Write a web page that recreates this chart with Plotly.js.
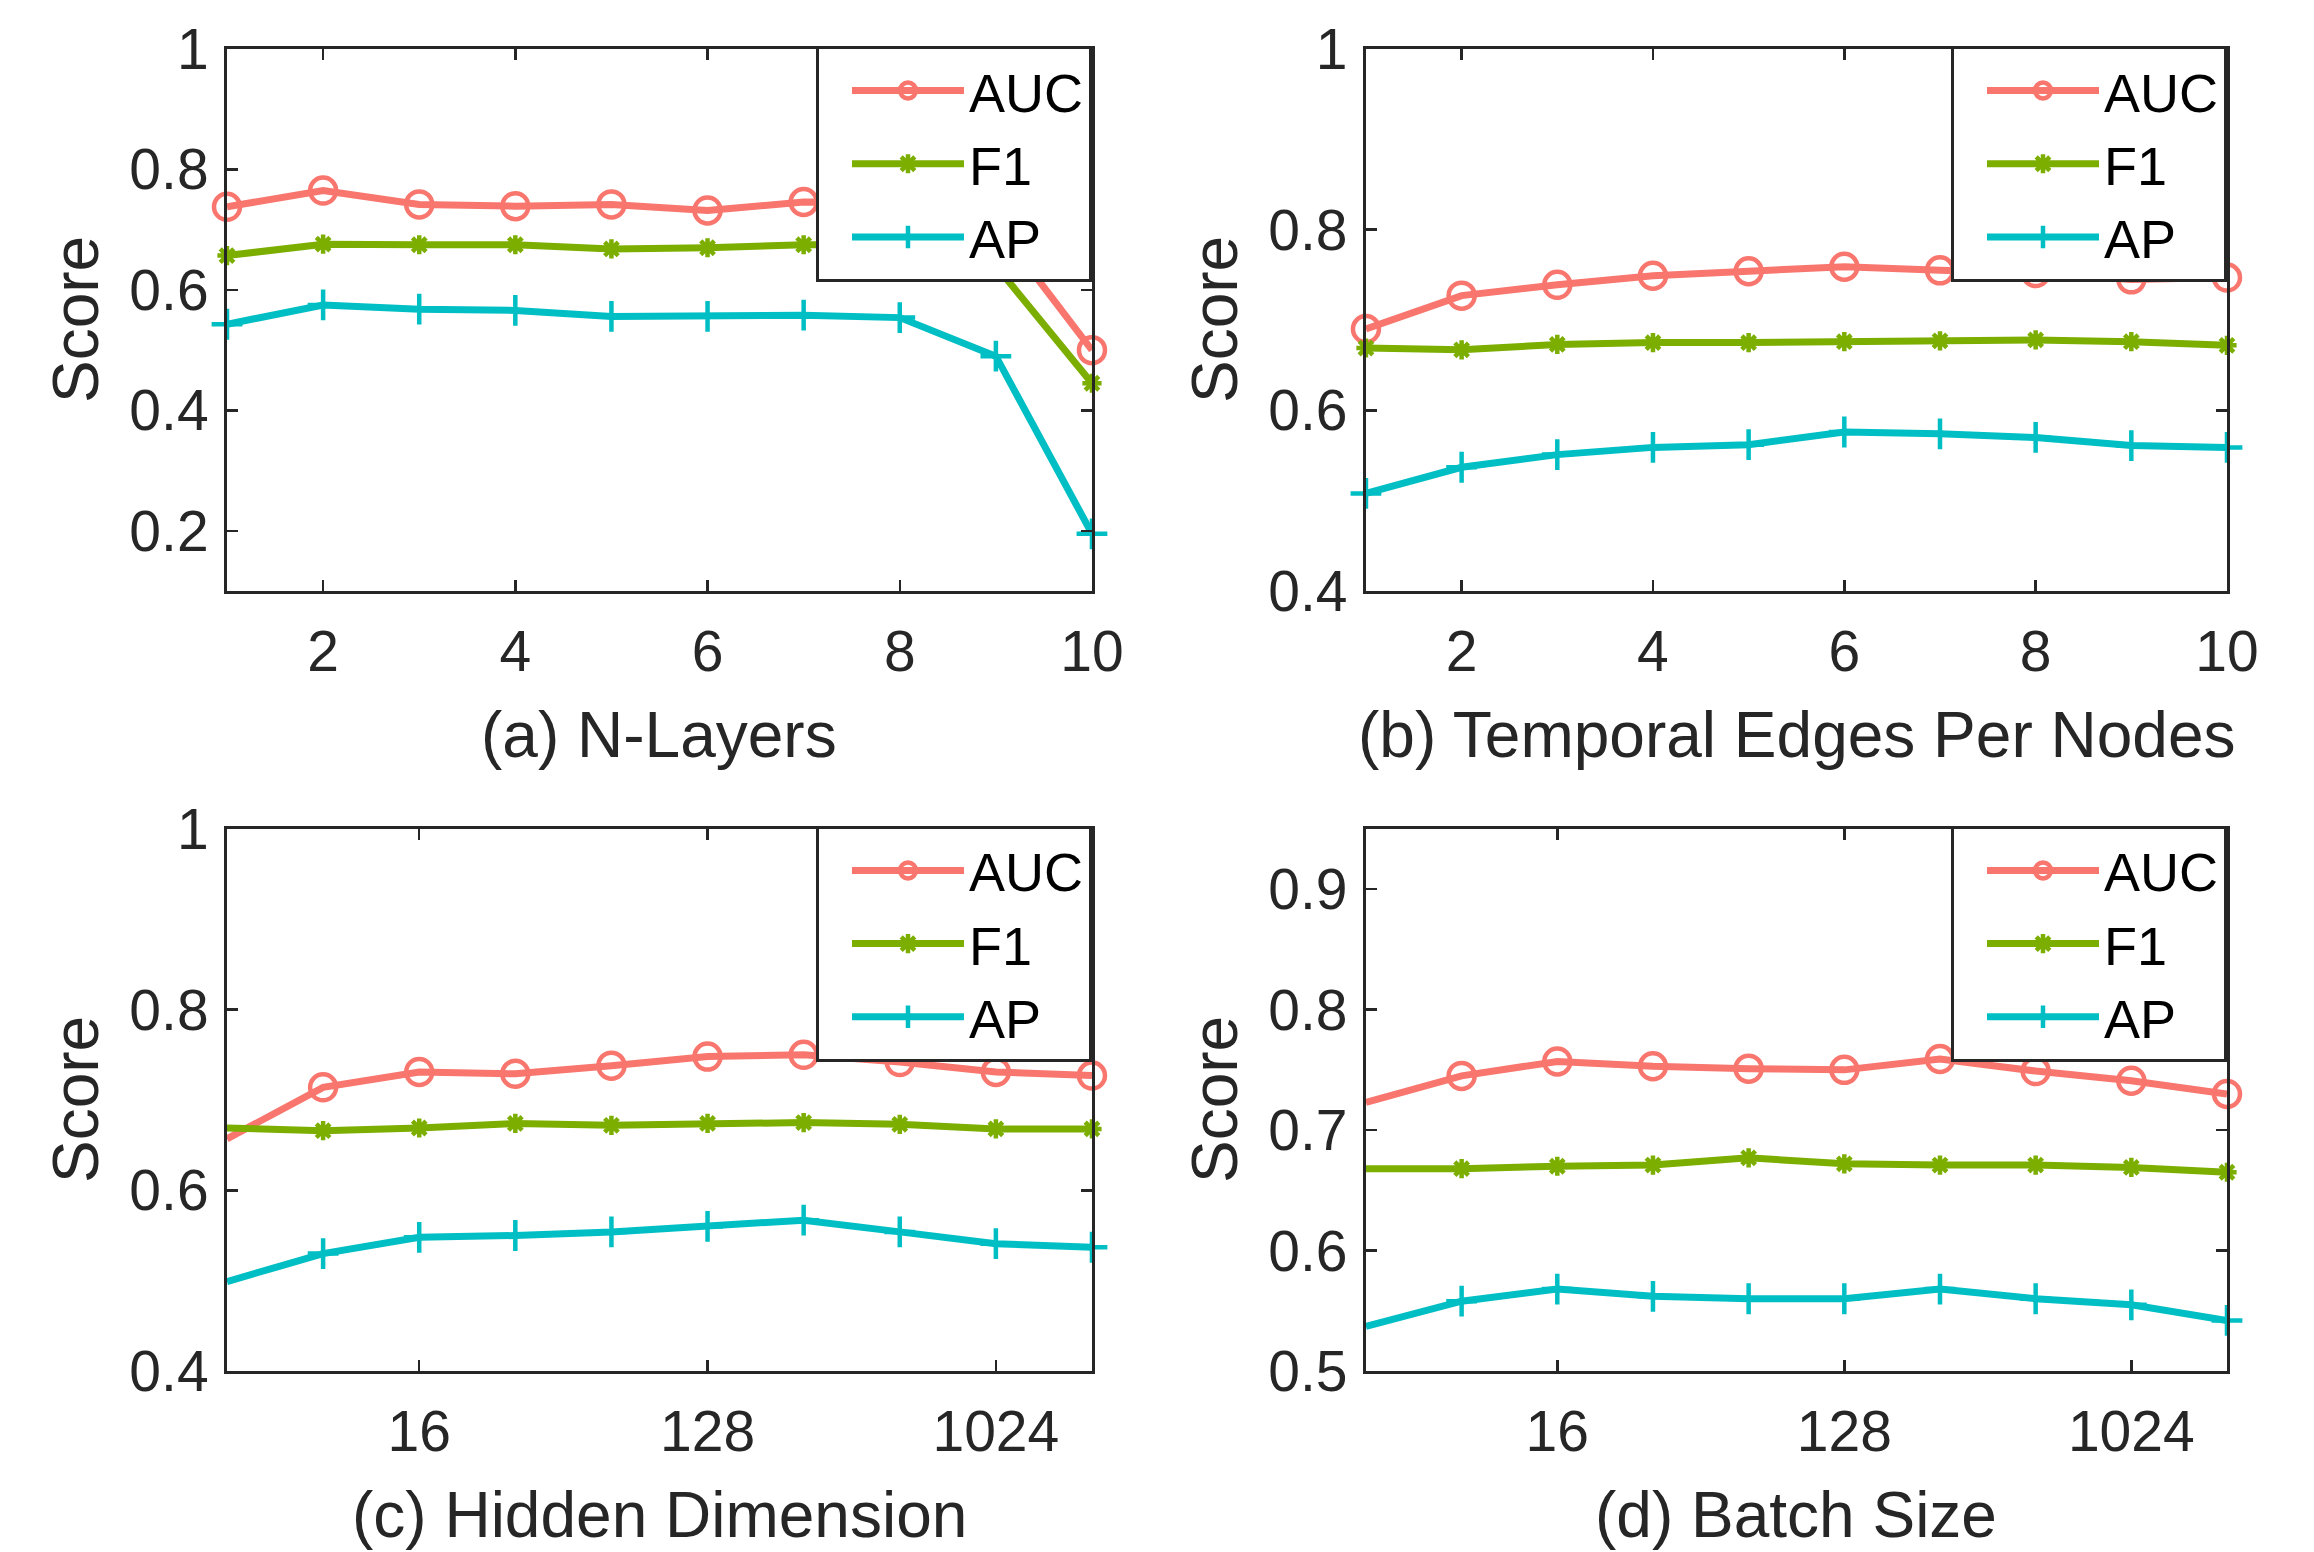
<!DOCTYPE html>
<html>
<head>
<meta charset="utf-8">
<script src="https://cdn.plot.ly/plotly-3.0.1.min.js"></script>
<style>
  html, body { margin: 0; padding: 0; background: #ffffff; }
  #chart { width: 2314px; height: 1552px; }
</style>
</head>
<body>
<div id="chart"></div>
<script>
// ---------- data ----------
const seriesNames = ['AUC', 'F1', 'AP'];

// (a) N-Layers
const nLayers = [1, 2, 3, 4, 5, 6, 7, 8, 9, 10];
const aAUC = [0.738, 0.765, 0.742, 0.739, 0.742, 0.732, 0.746, 0.745, 0.709, 0.500];
const aF1  = [0.657, 0.676, 0.675, 0.675, 0.668, 0.670, 0.675, 0.675, 0.640, 0.445];
const aAP  = [0.543, 0.575, 0.568, 0.566, 0.556, 0.556, 0.558, 0.554, 0.490, 0.195];

// (b) Temporal Edges Per Nodes
const edgesPerNode = [1, 2, 3, 4, 5, 6, 7, 8, 9, 10];
const bAUC = [0.690, 0.727, 0.739, 0.749, 0.754, 0.759, 0.755, 0.752, 0.745, 0.747];
const bF1  = [0.669, 0.667, 0.673, 0.675, 0.675, 0.676, 0.677, 0.678, 0.676, 0.672];
const bAP  = [0.508, 0.537, 0.551, 0.559, 0.562, 0.576, 0.574, 0.570, 0.561, 0.559];

// (c) Hidden Dimension
const hiddenDim = [4, 8, 16, 32, 64, 128, 256, 512, 1024, 2048];
const cAUC = [0.657, 0.714, 0.731, 0.729, 0.738, 0.748, 0.750, 0.742, 0.731, 0.727];
const cF1  = [0.669, 0.666, 0.669, 0.674, 0.672, 0.674, 0.675, 0.673, 0.668, 0.668];
const cAP  = [0.499, 0.530, 0.548, 0.550, 0.554, 0.560, 0.567, 0.554, 0.541, 0.537];

// (d) Batch Size
const batchSize = [4, 8, 16, 32, 64, 128, 256, 512, 1024, 2048];
const dAUC = [0.723, 0.745, 0.757, 0.753, 0.751, 0.750, 0.759, 0.749, 0.741, 0.730];
const dF1  = [0.668, 0.668, 0.670, 0.671, 0.677, 0.672, 0.671, 0.671, 0.669, 0.665];
const dAP  = [0.537, 0.558, 0.568, 0.562, 0.560, 0.560, 0.568, 0.560, 0.555, 0.542];

// tick labels
const linXTicks = [2, 4, 6, 8, 10];
const logXTicks = [16, 128, 1024];
const yTicksA = [0.2, 0.4, 0.6, 0.8, 1];
const yTicksB = [0.4, 0.6, 0.8, 1];
const yTicksC = [0.4, 0.6, 0.8, 1];
const yTicksD = [0.5, 0.6, 0.7, 0.8, 0.9];
const yTickTextA = ['0.2', '0.4', '0.6', '0.8', '1'];
const yTickTextB = ['0.4', '0.6', '0.8', '1'];
const yTickTextC = ['0.4', '0.6', '0.8', '1'];
const yTickTextD = ['0.5', '0.6', '0.7', '0.8', '0.9'];

const panelTitles = ['(a) N-Layers', '(b) Temporal Edges Per Nodes', '(c) Hidden Dimension', '(d) Batch Size'];
const yTitle = 'Score';

// ---------- styling ----------
const colors = ['#F8766D', '#7CAE00', '#00BFC4'];
const symbols = ['circle-open', 'asterisk-open', 'cross-thin-open'];
const msizes = [26, 16, 22];
const ink = '#262626';
const fontFam = 'Liberation Sans, Arial, Helvetica, sans-serif';

const panels = [
  {x: nLayers, ys: [aAUC, aF1, aAP], xa: 'x', ya: 'y', leg: 'legend'},
  {x: edgesPerNode, ys: [bAUC, bF1, bAP], xa: 'x2', ya: 'y2', leg: 'legend2'},
  {x: hiddenDim, ys: [cAUC, cF1, cAP], xa: 'x3', ya: 'y3', leg: 'legend3'},
  {x: batchSize, ys: [dAUC, dF1, dAP], xa: 'x4', ya: 'y4', leg: 'legend4'}
];

const traces = [];
panels.forEach(p => {
  p.ys.forEach((yv, i) => {
    traces.push({
      type: 'scatter', mode: 'lines+markers',
      x: p.x, y: yv, name: seriesNames[i],
      xaxis: p.xa, yaxis: p.ya, legend: p.leg,
      line: {color: colors[i], width: 7},
      marker: {symbol: symbols[i], size: msizes[i], color: colors[i],
               line: {color: colors[i], width: 4.5}},
      cliponaxis: false
    });
  });
});

// geometry (paper fractions)
const colX = [[0.0981, 0.4719], [0.5903, 0.9624]];
const rowY = [[0.6192, 0.9684], [0.1166, 0.4659]];

function xAxis(dom, anchor, isLog, range) {
  return {
    domain: dom, anchor: anchor,
    type: isLog ? 'log' : 'linear',
    range: range,
    tickmode: 'array',
    tickvals: isLog ? logXTicks : linXTicks,
    ticktext: (isLog ? logXTicks : linXTicks).map(String),
    ticks: 'inside', ticklen: 11, tickwidth: 2.5, tickcolor: ink,
    showline: true, linecolor: ink, linewidth: 3, mirror: 'ticks',
    showgrid: false, zeroline: false,
    tickfont: {family: fontFam, size: 57, color: ink},
    ticklabelstandoff: 9,
    fixedrange: true
  };
}
function yAxis(dom, anchor, range, tv, tt) {
  return {
    domain: dom, anchor: anchor, range: range,
    tickmode: 'array', tickvals: tv, ticktext: tt,
    ticks: 'inside', ticklen: 11, tickwidth: 2.5, tickcolor: ink,
    showline: true, linecolor: ink, linewidth: 3, mirror: 'ticks',
    showgrid: false, zeroline: false,
    tickfont: {family: fontFam, size: 57, color: ink},
    ticklabelstandoff: 4,
    fixedrange: true
  };
}
function legendAt(xr, ytop) {
  return {
    x: xr, y: ytop, xanchor: 'right', yanchor: 'top',
    bgcolor: '#ffffff', bordercolor: ink, borderwidth: 3,
    font: {family: fontFam, size: 54, color: '#000000'},
    itemwidth: 112, indentation: 28, tracegroupgap: 0
  };
}

const logRange = [Math.log10(hiddenDim[0]), Math.log10(hiddenDim[hiddenDim.length - 1])];

const titleFont = {family: fontFam, size: 64, color: ink};
const annotations = [];
const centersX = [(colX[0][0] + colX[0][1]) / 2, (colX[1][0] + colX[1][1]) / 2];
const titleY = [1 - 735 / 1552, 1 - 1515 / 1552];
const yTitleX = [76 / 2314, 1215 / 2314];
[[0, 0], [1, 0], [0, 1], [1, 1]].forEach(([c, r], k) => {
  annotations.push({
    xref: 'paper', yref: 'paper', x: centersX[c], y: titleY[r],
    xanchor: 'center', yanchor: 'middle', showarrow: false,
    text: panelTitles[k], font: titleFont
  });
  annotations.push({
    xref: 'paper', yref: 'paper', x: yTitleX[c], y: (rowY[r][0] + rowY[r][1]) / 2,
    xanchor: 'center', yanchor: 'middle', showarrow: false, textangle: -90,
    text: yTitle, font: titleFont
  });
});

const layout = {
  width: 2314, height: 1552,
  margin: {l: 0, r: 0, t: 0, b: 0},
  paper_bgcolor: '#ffffff', plot_bgcolor: '#ffffff',
  font: {family: fontFam, color: ink},
  showlegend: true,
  xaxis:  xAxis(colX[0], 'y',  false, [1, 10]),
  xaxis2: xAxis(colX[1], 'y2', false, [1, 10]),
  xaxis3: xAxis(colX[0], 'y3', true, logRange),
  xaxis4: xAxis(colX[1], 'y4', true, logRange),
  yaxis:  yAxis(rowY[0], 'x',  [0.1, 1], yTicksA, yTickTextA),
  yaxis2: yAxis(rowY[0], 'x2', [0.4, 1], yTicksB, yTickTextB),
  yaxis3: yAxis(rowY[1], 'x3', [0.4, 1], yTicksC, yTickTextC),
  yaxis4: yAxis(rowY[1], 'x4', [0.5, 0.95], yTicksD, yTickTextD),
  legend:  legendAt(colX[0][1], rowY[0][1] + 0.002),
  legend2: legendAt(colX[1][1], rowY[0][1] + 0.002),
  legend3: legendAt(colX[0][1], rowY[1][1] + 0.002),
  legend4: legendAt(colX[1][1], rowY[1][1] + 0.002),
  annotations: annotations
};

Plotly.newPlot('chart', traces, layout, {displayModeBar: false, staticPlot: true});
</script>
</body>
</html>
